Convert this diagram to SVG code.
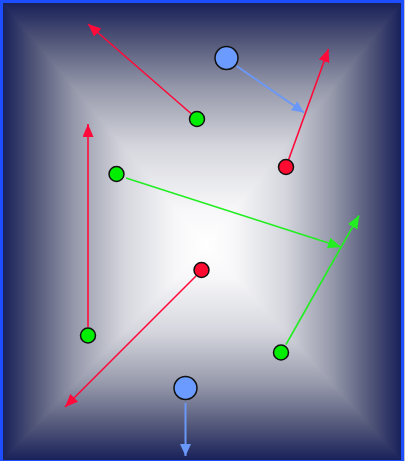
<svg xmlns="http://www.w3.org/2000/svg" width="405" height="461" viewBox="0 0 405 461">
<style>
.red{stroke:#ff0a3a;stroke-width:1.6;fill:none}
.green{stroke:#22ee22;stroke-width:1.6;fill:none}
.blue{stroke:#6a98f8;stroke-width:2;fill:none}
.n{stroke:#111;stroke-width:1.5}
.nr{fill:#ff0a30}
.ng{fill:#00ee00}
.nb{fill:#6b9bff}
.bg{shape-rendering:crispEdges}
</style>
<defs>
<linearGradient id="gT" gradientUnits="userSpaceOnUse" x1="0" y1="3" x2="0" y2="245">
<stop offset="0" stop-color="#18215a"/><stop offset="0.15" stop-color="#4f5477"/><stop offset="0.35" stop-color="#9598aa"/><stop offset="0.6" stop-color="#d6d7de"/><stop offset="0.85" stop-color="#f7f7f9"/><stop offset="1" stop-color="#ffffff"/>
</linearGradient>
<linearGradient id="gB" gradientUnits="userSpaceOnUse" x1="0" y1="460" x2="0" y2="245">
<stop offset="0" stop-color="#18215a"/><stop offset="0.15" stop-color="#4f5477"/><stop offset="0.35" stop-color="#9598aa"/><stop offset="0.6" stop-color="#d6d7de"/><stop offset="0.85" stop-color="#f7f7f9"/><stop offset="1" stop-color="#ffffff"/>
</linearGradient>
<linearGradient id="gL" gradientUnits="userSpaceOnUse" x1="3" y1="0" x2="206" y2="0">
<stop offset="0" stop-color="#18215a"/><stop offset="0.15" stop-color="#4f5477"/><stop offset="0.35" stop-color="#9598aa"/><stop offset="0.6" stop-color="#d6d7de"/><stop offset="0.85" stop-color="#f7f7f9"/><stop offset="1" stop-color="#ffffff"/>
</linearGradient>
<linearGradient id="gR" gradientUnits="userSpaceOnUse" x1="401" y1="0" x2="206" y2="0">
<stop offset="0" stop-color="#18215a"/><stop offset="0.15" stop-color="#4f5477"/><stop offset="0.35" stop-color="#9598aa"/><stop offset="0.6" stop-color="#d6d7de"/><stop offset="0.85" stop-color="#f7f7f9"/><stop offset="1" stop-color="#ffffff"/>
</linearGradient>
<marker id="aR" markerUnits="userSpaceOnUse" markerWidth="14" markerHeight="12" refX="13" refY="5.5" orient="auto"><path d="M0,0 L13,5.5 L0,11 z" fill="#ff0a3a"/></marker>
<marker id="aG" markerUnits="userSpaceOnUse" markerWidth="14" markerHeight="12" refX="13" refY="5.5" orient="auto"><path d="M0,0 L13,5.5 L0,11 z" fill="#22ee22"/></marker>
<marker id="aB" markerUnits="userSpaceOnUse" markerWidth="13" markerHeight="12" refX="12" refY="5.5" orient="auto"><path d="M0,0 L12,5.5 L0,11 z" fill="#6a98f8"/></marker>
</defs>
<g id="background">
<rect x="0" y="0" width="405" height="461" fill="#c0c2cc"/>
<polygon class="bg" points="3,3 401,3 206,245" fill="url(#gT)"/>
<polygon class="bg" points="3,460 401,460 206,245" fill="url(#gB)"/>
<polygon class="bg" points="3,3 3,460 206,245" fill="url(#gL)"/>
<polygon class="bg" points="401,3 401,460 206,245" fill="url(#gR)"/>
<rect x="1.5" y="1.5" width="401" height="460" fill="none" stroke="#1c4dff" stroke-width="3"/>
</g>
<g id="connectors">
<line class="red" x1="191" y1="113.5" x2="88" y2="24" marker-end="url(#aR)"/>
<line class="blue" x1="236.5" y1="66" x2="304" y2="112.5" marker-end="url(#aB)"/>
<line class="red" x1="288.7" y1="159.5" x2="328.5" y2="49" marker-end="url(#aR)"/>
<line class="green" x1="126" y1="178" x2="341" y2="247" marker-end="url(#aG)"/>
<line class="red" x1="88" y1="327" x2="88" y2="124" marker-end="url(#aR)"/>
<line class="red" x1="196" y1="276" x2="65" y2="407" marker-end="url(#aR)"/>
<line class="green" x1="286" y1="344.5" x2="359" y2="215.5" marker-end="url(#aG)"/>
<line class="blue" x1="185.5" y1="403" x2="185.5" y2="456" marker-end="url(#aB)"/>
</g>
<g id="node1"><circle class="n ng" cx="197" cy="119" r="7.5"/></g>
<g id="node2"><circle class="n nb" cx="226.5" cy="58" r="11.5"/></g>
<g id="node3"><circle class="n nr" cx="286" cy="167" r="7.5"/></g>
<g id="node4"><circle class="n ng" cx="116.5" cy="174" r="7.5"/></g>
<g id="node5"><circle class="n ng" cx="88" cy="335.5" r="7.5"/></g>
<g id="node6"><circle class="n nr" cx="201.5" cy="270" r="7.5"/></g>
<g id="node7"><circle class="n ng" cx="281" cy="352.5" r="7.5"/></g>
<g id="node8"><circle class="n nb" cx="185.5" cy="388" r="11.5"/></g>
</svg>
